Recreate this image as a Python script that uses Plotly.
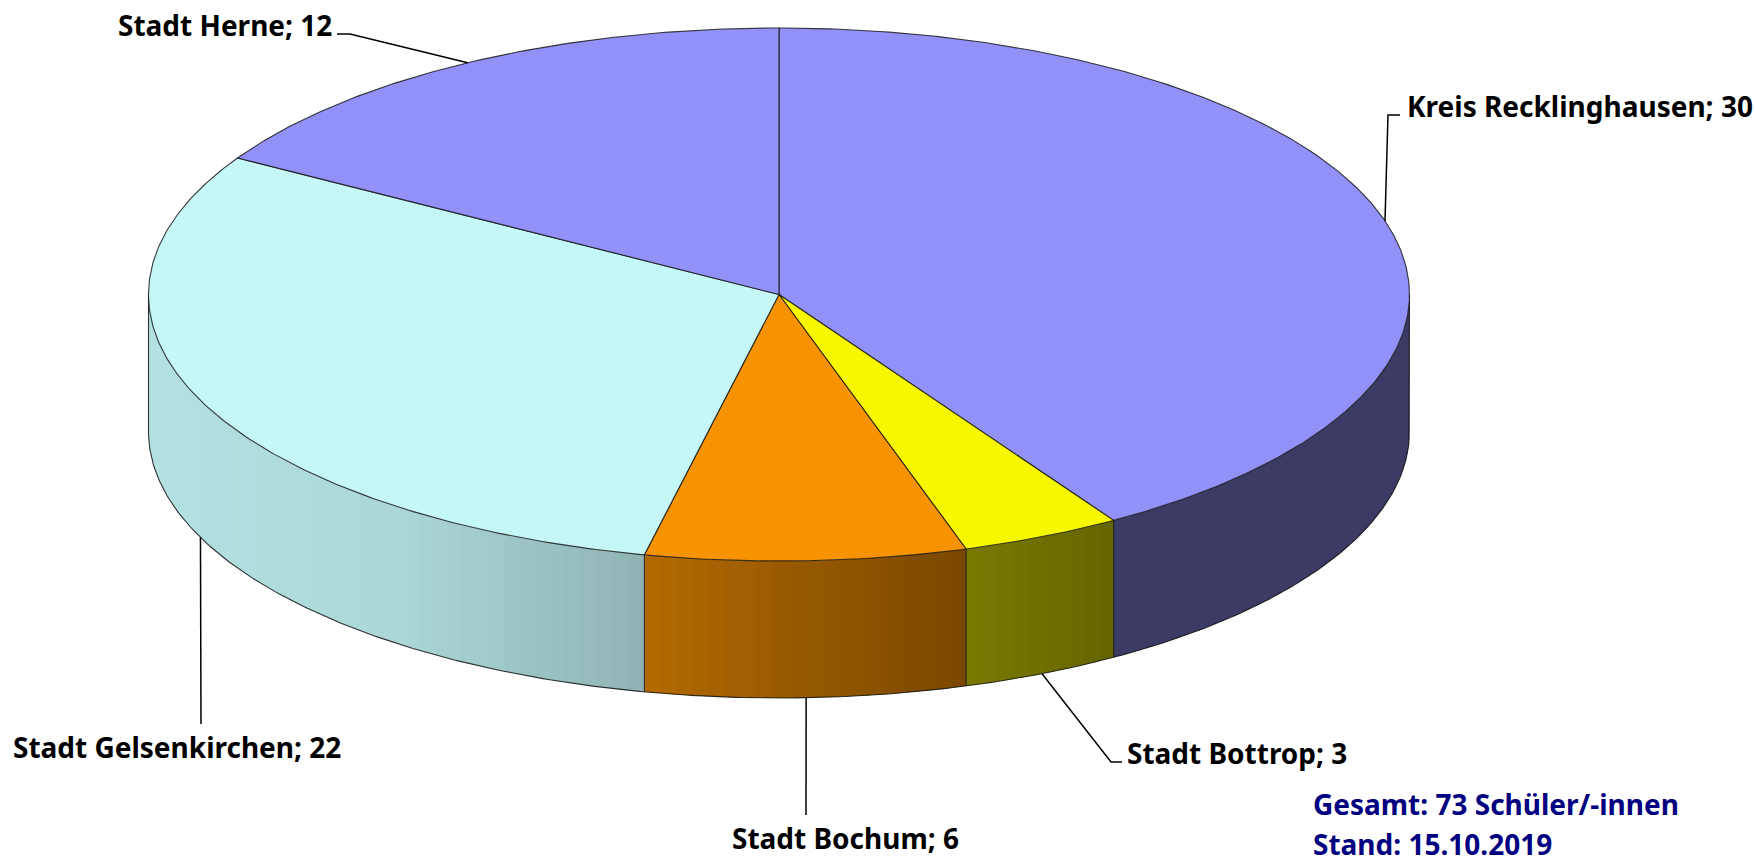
import numpy as np
import plotly.graph_objects as go

# ---- data ----
categories = ["Kreis Recklinghausen", "Stadt Bottrop", "Stadt Bochum", "Stadt Gelsenkirchen", "Stadt Herne"]
values = [30, 3, 6, 22, 12]
colors = [(145, 145, 248), (247, 247, 0), (247, 146, 0), (197, 247, 247), (145, 145, 248)]
note_lines = ["Gesamt: 73 Schüler/-innen", "Stand: 15.10.2019"]

# ---- layout constants (pixel space of the page) ----
W, H = 1755, 864
CX, CY, RX, RY, DEPTH = 779.0, 294.5, 630.5, 266.5, 137.0
SHADE_X = [148, 400, 645, 966, 1114, 1409]
SHADE_F = [0.91, 0.87, 0.725, 0.49, 0.41, 0.41]
FONT = "Noto Sans"
LABEL_SIZE = 28

# label anchor (left x, centre y) and leader bend points, per category
label_pos = [(1407, 106), (1127, 753), (732, 838), (13, 747), (118, 25)]
leader_bends = [
    [(1388, 115), (1400, 115)],
    [(1111, 762), (1122, 762)],
    [(806, 815)],
    [(201, 724)],
    [(350, 34), (337, 34)],
]
leader_on_wall = [False, True, True, True, False]

total = sum(values)
edges = np.cumsum([0] + values) / total * 360.0


def px(a):
    return CX + RX * np.sin(np.radians(a))


def py(a):
    return CY - RY * np.cos(np.radians(a))


def rgb(c, f=1.0):
    return "rgb(%d,%d,%d)" % tuple(round(v * f) for v in c)


fig = go.Figure()

# side wall: bands shaded by horizontal position; each band runs a little under the next
for i, col in enumerate(colors):
    a0, a1 = max(edges[i], 90.0), min(edges[i + 1], 270.0)
    if a1 <= a0:
        continue
    n = max(1, int(np.ceil((a1 - a0) / 1.5)))
    steps = np.linspace(a0, a1, n + 1)
    for s0, s1 in zip(steps[:-1], steps[1:]):
        end = min(s1 + 1.0, a1)
        arc = np.linspace(s0, end, 6)
        xs = np.concatenate([px(arc), px(arc[::-1])])
        ys = np.concatenate([py(arc), py(arc[::-1]) + DEPTH])
        shade = rgb(col, float(np.interp(px((s0 + s1) / 2), SHADE_X, SHADE_F)))
        fig.add_trace(go.Scatter(x=xs, y=ys, mode="lines", fill="toself", fillcolor=shade,
                                 line=dict(width=0), hoverinfo="skip", showlegend=False))

# side wall outlines
edge_style = dict(color="rgba(20,20,20,0.85)", width=1.1)
wall = np.linspace(90, 270, 361)
fig.add_trace(go.Scatter(
    x=np.concatenate([[px(90.0)], px(wall), [px(270.0)]]),
    y=np.concatenate([[py(90.0)], py(wall) + DEPTH, [py(270.0)]]),
    mode="lines", line=edge_style, hoverinfo="skip", showlegend=False))
for e in edges:
    if 90 < e < 270:
        fig.add_trace(go.Scatter(x=[px(e), px(e)], y=[py(e), py(e) + DEPTH], mode="lines",
                                 line=edge_style, hoverinfo="skip", showlegend=False))

# top face slices
for i, col in enumerate(colors):
    arc = np.linspace(edges[i], edges[i + 1], max(8, int(edges[i + 1] - edges[i]) * 2))
    fig.add_trace(go.Scatter(
        x=np.concatenate([[CX], px(arc), [CX]]),
        y=np.concatenate([[CY], py(arc), [CY]]),
        mode="lines", fill="toself", fillcolor=rgb(col),
        line=dict(color="rgba(25,25,25,0.85)", width=1.1),
        name=categories[i], hoverinfo="name", showlegend=False))

# leader lines start at the middle of each slice's rim
for i, name in enumerate(categories):
    mid = (edges[i] + edges[i + 1]) / 2
    tip = (px(mid), py(mid) + (DEPTH if leader_on_wall[i] else 0))
    pts = [tip] + leader_bends[i]
    fig.add_trace(go.Scatter(x=[p[0] for p in pts], y=[p[1] for p in pts], mode="lines",
                             line=dict(color="black", width=1.5), hoverinfo="skip", showlegend=False))

annotations = [
    dict(x=label_pos[i][0], y=label_pos[i][1], text=f"<b>{categories[i]}; {values[i]}</b>",
         xanchor="left", yanchor="middle", showarrow=False, xshift=-2,
         font=dict(family=FONT, size=LABEL_SIZE, color="black"))
    for i in range(len(categories))
]
for text, y in zip(note_lines, (804, 844)):
    annotations.append(dict(x=1313, y=y, text=f"<b>{text}</b>", xanchor="left", yanchor="middle",
                            showarrow=False, xshift=-2,
                            font=dict(family=FONT, size=LABEL_SIZE, color="#000080")))

fig.update_layout(
    width=W, height=H, margin=dict(l=0, r=0, t=0, b=0),
    paper_bgcolor="white", plot_bgcolor="white", showlegend=False,
    xaxis=dict(range=[0, W], visible=False, fixedrange=True),
    yaxis=dict(range=[H, 0], visible=False, fixedrange=True),
    annotations=annotations,
)
fig.write_html("out.html", config={"displayModeBar": False},
               post_script="document.body.style.margin='0';document.body.style.overflow='hidden';")
